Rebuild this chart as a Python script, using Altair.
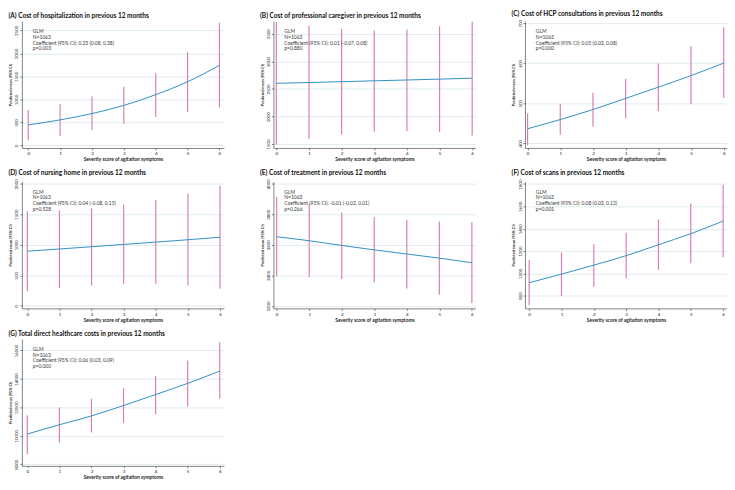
import altair as alt
import pandas as pd

x_vals = [0, 1, 2, 3, 4, 5, 6]
x_title = "Severity score of agitation symptoms"
y_title = "Predicted mean (95% CI)"

titles = [
    "(A) Cost of hospitalization in previous 12 months",
    "(B) Cost of professional caregiver in previous 12 months",
    "(C) Cost of HCP consultations in previous 12 months",
    "(D) Cost of nursing home in previous 12 months",
    "(E) Cost of treatment in previous 12 months",
    "(F) Cost of scans in previous 12 months",
    "(G) Total direct healthcare costs in previous 12 months",
]

coefs = [
    "Coefficient (95% CI): 0.23 (0.08, 0.38)",
    "Coefficient (95% CI): 0.01 (-0.07, 0.08)",
    "Coefficient (95% CI): 0.05 (0.03, 0.08)",
    "Coefficient (95% CI): 0.04 (-0.08, 0.15)",
    "Coefficient (95% CI): -0.01 (-0.02, 0.01)",
    "Coefficient (95% CI): 0.08 (0.03, 0.12)",
    "Coefficient (95% CI): 0.06 (0.03, 0.09)",
]
pvals = ["p=0.003", "p=0.880", "p=0.000", "p=0.528", "p=0.266", "p=0.001", "p=0.000"]

a_mean = [445, 555, 692, 870, 1103, 1384, 1740]
a_lo = [110, 205, 329, 473, 616, 733, 822]
a_hi = [767, 897, 1062, 1274, 1575, 2027, 2664]

b_mean = [2603, 2617, 2632, 2648, 2663, 2679, 2695]
b_lo = [1494, 1597, 1672, 1724, 1736, 1718, 1655]
b_hi = [3718, 3644, 3586, 3563, 3580, 3638, 3718]

c_mean = [436, 459, 484, 512, 540, 569, 600]
c_lo = [395, 421, 441, 462, 480, 497, 513]
c_hi = [474, 498, 526, 561, 599, 642, 690]

d_mean = [896, 932, 969, 1007, 1045, 1084, 1124]
d_lo = [238, 295, 332, 358, 358, 332, 280]
d_hi = [1549, 1565, 1601, 1658, 1736, 1839, 1969]

e_mean = [3653, 3627, 3596, 3567, 3540, 3513, 3483]
e_lo = [3394, 3390, 3377, 3353, 3315, 3274, 3219]
e_hi = [3913, 3868, 3812, 3783, 3765, 3753, 3750]

f_mean = [915, 992, 1073, 1158, 1256, 1355, 1468]
f_lo = [713, 797, 879, 955, 1031, 1089, 1144]
f_hi = [1118, 1186, 1262, 1363, 1482, 1625, 1795]

g_mean = [10130, 10780, 11400, 12130, 12900, 13690, 14550]
g_lo = [8720, 9530, 10240, 10900, 11520, 12070, 12600]
g_hi = [11450, 12000, 12600, 13340, 14200, 15300, 16570]

y_ticks = [
    [0, 500, 1000, 1500, 2000, 2500],
    [1500, 2000, 2500, 3000, 3500],
    [400, 500, 600, 700],
    [0, 500, 1000, 1500, 2000],
    [3200, 3400, 3600, 3800, 4000],
    [800, 1000, 1200, 1400, 1600, 1800],
    [8000, 10000, 12000, 14000, 16000],
]
y_domains = [
    [-55, 2700],
    [1430, 3730],
    [388, 705],
    [-41, 2036],
    [3184, 4014],
    [685, 1822],
    [7890, 16800],
]
x_domains = [
    [-0.2, 6.14],
    [-0.09, 6.1],
    [-0.08, 6.1],
    [-0.17, 6.12],
    [-0.1, 6.11],
    [-0.13, 6.12],
    [-0.17, 6.13],
]

series = [
    (a_mean, a_lo, a_hi),
    (b_mean, b_lo, b_hi),
    (c_mean, c_lo, c_hi),
    (d_mean, d_lo, d_hi),
    (e_mean, e_lo, e_hi),
    (f_mean, f_lo, f_hi),
    (g_mean, g_lo, g_hi),
]

LINE = "#3190c6"
PINK = "#d97fb7"
FONT = "Lato"

panels = []
for i, (m, lo, hi) in enumerate(series):
    df = pd.DataFrame({"x": x_vals, "mean": m, "lo": lo, "hi": hi})
    xs = alt.Scale(domain=x_domains[i], nice=False, zero=False)
    ys = alt.Scale(domain=y_domains[i], nice=False, zero=False)
    xax = alt.Axis(values=x_vals, title=x_title, format="d", labelOverlap=False, tickCount=7)
    yax = alt.Axis(values=y_ticks[i], title=y_title, format="d", labelOverlap=False,
                   tickCount=len(y_ticks[i]))
    base = alt.Chart(df)
    bars = base.mark_rule(color=PINK, strokeWidth=1.2, clip=True).encode(
        x=alt.X("x:Q", scale=xs, axis=xax),
        y=alt.Y("lo:Q", scale=ys, axis=yax),
        y2="hi:Q",
    )
    line = base.mark_line(color=LINE, strokeWidth=1.0, interpolate="monotone", clip=True).encode(
        x=alt.X("x:Q", scale=xs, axis=xax),
        y=alt.Y("mean:Q", scale=ys, axis=yax),
    )
    note = alt.Chart(pd.DataFrame({"k": [0]})).mark_text(
        text=["GLM", "N=1063", coefs[i], pvals[i]],
        align="left",
        baseline="top",
        fontSize=5.0,
        lineHeight=5.8,
        font=FONT,
        color="#3a3a3a",
    ).encode(x=alt.value(11), y=alt.value(8))
    panel = alt.layer(bars, line, note).properties(
        width=204,
        height=128,
        title=alt.TitleParams(titles[i], anchor="start"),
    )
    panels.append(panel)

chart = alt.concat(*panels, columns=3, spacing={"row": 8, "column": 36}).properties(
    padding=0, background="white"
).configure_view(strokeWidth=0).configure_title(
    font=FONT, fontSize=6.6, fontWeight="bold", color="#111111", offset=2, anchor="start"
).configure_axis(
    labelFont=FONT,
    titleFont=FONT,
    labelColor="#222222",
    titleColor="#222222",
    domainColor="#333333",
    tickColor="#333333",
    domainWidth=0.6,
    tickWidth=0.6,
    tickSize=2,
    labelPadding=1,
    titlePadding=1.5,
).configure_axisX(
    labelFontSize=4.6, titleFontSize=4.9, grid=False
).configure_axisY(
    labelFontSize=4.4, titleFontSize=3.9, labelAngle=270, grid=True,
    gridColor="#d6e7ea", gridWidth=0.8
)

chart.save("out.html", embed_options={"renderer": "svg", "actions": False})
